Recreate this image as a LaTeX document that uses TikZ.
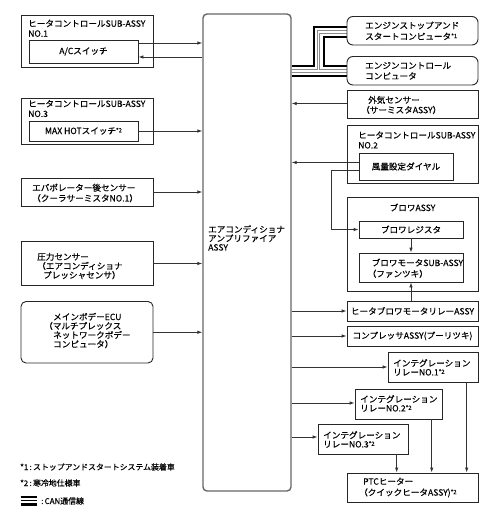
\documentclass[tikz,border=0pt]{standalone}
\usepackage{fontspec}
\setmainfont{Noto Sans CJK JP}[FakeBold=0.35]
\usetikzlibrary{arrows.meta,fit,backgrounds}
\newcommand\astnote[1]{\raisebox{1.6pt}{\fontsize{5.8}{5.8}\selectfont *#1}}
\tikzset{
 box/.style={draw=black!85, line width=0.9pt, inner sep=0pt},
 rbox/.style={box, rounded corners=5pt},
 lbl/.style={inner sep=0pt, align=left, font=\fontsize{8.6}{#1}\selectfont},
 lbl/.default=9.6,
 arr/.style={draw=black!80, line width=0.9pt, -{Latex[length=5pt,width=3.6pt]}},
 cable/.style={draw=black, line width=12pt, line join=miter,
   postaction={draw=white, line width=8pt, line join=miter,
   postaction={draw=black!45, line width=3.6pt, line join=miter,
   postaction={draw=white, line width=1.6pt, line join=miter}}}},
}
\begin{document}
\begin{tikzpicture}[x=1pt,y=-1pt]
\useasboundingbox (0,0) rectangle (496,518);
% central amplifier
\node[fit={(203,14) (291,491)}, draw=black!60, line width=1.4pt, rounded corners=4pt, inner sep=0pt] (amp) {};
\node[lbl=9, anchor=west] (tamp) at (208,238) {エアコンディショナ\\アンプリファイア\\ASSY};
% left boxes
\node[box, fit={(21,15) (153,67)}] (hc1) {};
\node[lbl=10, anchor=west] (thc1) at (28,28.3) {ヒータコントロールSUB-ASSY\\NO.1};
\node[box, fit={(29,40) (138,63)}] (ac) {};
\node[lbl] (tac) at (ac.center) {A/Cスイッチ};
\node[box, fit={(21,98) (153,144)}] (hc3) {};
\node[lbl=10, anchor=west] (thc3) at (28,108.5) {ヒータコントロールSUB-ASSY\\NO.3};
\node[box, fit={(29,121) (138,141)}] (mh) {};
\node[lbl] (tmh) at (mh.center) {MAX HOTスイッチ\astnote{2}};
\node[box, fit={(21,178) (153,206)}] (evap) {};
\node[lbl=10.5, anchor=west] (tevap) at (32,193) {エバポレーター後センサー\\（クーラサーミスタNO.1）};
\node[box, fit={(21,241.5) (153,285.5)}] (pres) {};
\node[lbl=9.2, anchor=west] (tpres) at (37,266) {圧力センサー\\（エアコンディショナ\\\hspace*{6pt}プレッシャセンサ）};
\node[rbox, fit={(21,301.5) (153,363)}] (ecu) {};
\node[lbl=9.1, anchor=west] (tecu) at (53,330.5) {メインボデーECU\\\hspace*{-9pt}（マルチプレックス\\ネットワークボデー\\コンピュータ）};
% right boxes
\node[box, rounded corners=6pt, fit={(347,16.5) (478,45)}] (ess) {};
\node[lbl=11, anchor=west] (tess) at (365,30.8) {エンジンストップアンド\\スタートコンピュータ\astnote{1}};
\node[box, rounded corners=6pt, fit={(347,56.5) (478,85)}] (ecm) {};
\node[lbl=10.5, anchor=west] (tecm) at (365,70.8) {エンジンコントロール\\コンピュータ};
\node[box, fit={(347,90) (478,118)}] (oat) {};
\node[lbl=10, anchor=west] (toat) at (368,105) {外気センサー\\\hspace*{-7pt}（サーミスタASSY）};
\node[box, fit={(347,125) (478,183)}] (hc2) {};
\node[lbl=10, anchor=west] (thc2) at (358,140) {ヒータコントロールSUB-ASSY\\NO.2};
\node[box, fit={(359,153) (453,180)}] (fu) {};
\node[lbl] (tfu) at (fu.center) {風量設定ダイヤル};
\node[box, fit={(347,197) (478,291)}] (blw) {};
\node[lbl] (tblw) at (412.5,207.5) {ブロワASSY};
\node[box, fit={(359,221) (463,238)}] (res) {};
\node[lbl] (tres) at (res.center) {ブロワレジスタ};
\node[box, fit={(359,253) (463,282)}] (mot) {};
\node[lbl=11, anchor=west] (tmot) at (371.5,268.3) {ブロワモータSUB-ASSY\\\hspace*{-4pt}（ファンツキ）};
\node[box, fit={(347,301) (478,321)}] (rly) {};
\node[lbl] (trly) at (rly.center) {ヒータブロワモータリレーASSY};
\node[box, fit={(347,326) (478,346)}] (cmp) {};
\node[lbl] (tcmp) at (cmp.center) {コンプレッサASSY(プーリツキ)};
\node[box, fit={(388,352) (478,382)}] (i1) {};
\node[lbl=9, anchor=west] (ti1) at (393,367.5) {インテグレーション\\リレーNO.1\astnote{2}};
\node[box, fit={(355,389) (442,419)}] (i2) {};
\node[lbl=9, anchor=west] (ti2) at (360,403.5) {インテグレーション\\リレーNO.2\astnote{2}};
\node[box, fit={(318,424) (408,454)}] (i3) {};
\node[lbl=9, anchor=west] (ti3) at (323,439.5) {インテグレーション\\リレーNO.3\astnote{2}};
\node[box, fit={(347,473) (478,502)}] (ptc) {};
\node[lbl=11, anchor=west] (tptc) at (363,487.5) {PTCヒーター\\\hspace*{-4pt}（クイックヒータASSY)\astnote{2}};
% CAN cables
\begin{pgfonlayer}{background}
\path[cable] (amp.east |- 0,71) -- (318.5,71) -- (318.5,32) -- (ess.west |- 0,32)
             (amp.east |- 0,71) -- (ecm.west |- 0,71);
\end{pgfonlayer}
% arrows left
\draw[arr] (ac.east |- 0,43) -- (amp.west |- 0,43);
\draw[arr] (amp.west |- 0,57) -- (ac.east |- 0,57);
\draw[arr] (mh.east) -- (amp.west |- mh.east);
\draw[arr] (evap.east) -- (amp.west |- evap.east);
\draw[arr] (pres.east) -- (amp.west |- pres.east);
\draw[arr] (ecu.east) -- (amp.west |- ecu.east);
% arrows right
\draw[arr] (oat.west |- 0,103.5) -- (amp.east |- 0,103.5);
\draw[arr] (fu.west |- 0,162.5) -- (amp.east |- 0,162.5);
\draw[arr] (fu.west |- 0,170) -- (331.5,170) |- (res.west);
\draw[arr] (res.south) -- (mot.north);
\draw[arr] (mot.south |- rly.north) -- (mot.south);
\draw[arr] (amp.east |- rly.west) -- (rly.west);
\draw[arr] (amp.east |- cmp.west) -- (cmp.west);
\draw[arr] (amp.east |- i1.west) -- (i1.west);
\draw[arr] (amp.east |- 0,403) -- (i2.west |- 0,403);
\draw[arr] (amp.east |- 0,437) -- (i3.west |- 0,437);
\draw[arr] (i3.south -| 396.7,0) -- (ptc.north -| 396.7,0);
\draw[arr] (i2.south -| 431.7,0) -- (ptc.north -| 431.7,0);
\draw[arr] (i1.south -| 466.7,0) -- (ptc.north -| 466.7,0);
% footnotes
\node[inner sep=0pt, anchor=west, font=\fontsize{7.9}{9}\selectfont] (n1) at (20,467) {*1\,:\,ストップアンドスタートシステム装着車};
\node[inner sep=0pt, anchor=west, font=\fontsize{7.9}{9}\selectfont] (n2) at (20,483) {*2\,:\,寒冷地仕様車};
\draw[line width=2.5pt] (20.5,497) -- (36.5,497);
\draw[line width=1.2pt] (20.5,500.7) -- (36.5,500.7);
\draw[line width=2.5pt] (20.5,504.4) -- (36.5,504.4);
\node[inner sep=0pt, anchor=west, font=\fontsize{7.9}{9}\selectfont] (n3) at (41,501) {:\,CAN通信線};
\end{tikzpicture}
\end{document}
